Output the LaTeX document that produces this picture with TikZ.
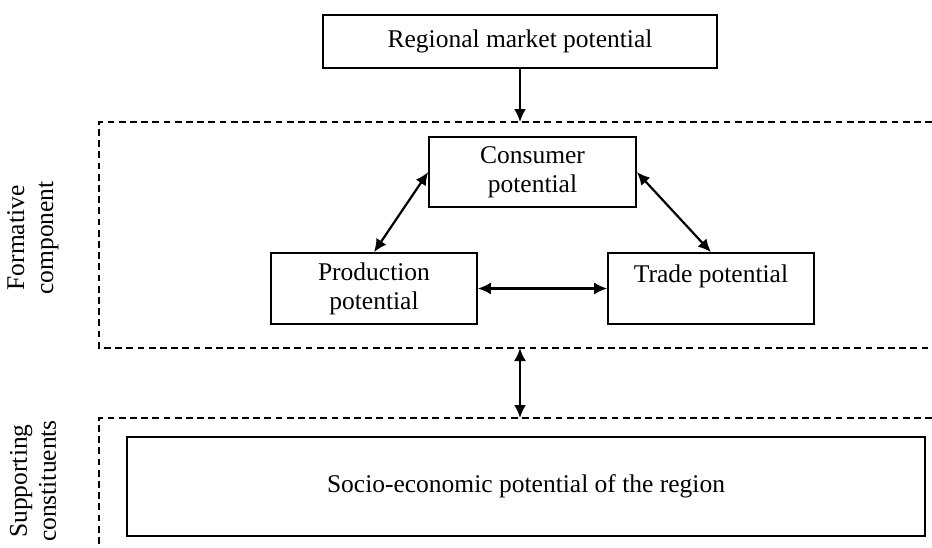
\documentclass[tikz,border=0pt]{standalone}
\usepackage{fontspec}
\setmainfont{Liberation Serif}
\usetikzlibrary{arrows.meta}
\tikzset{
  potbox/.style={draw,shape=rectangle,line width=0.8pt,inner sep=2pt,align=center,font=\fontsize{12.75}{14.5}\selectfont},
  zone/.style={dash pattern=on 3.4pt off 2.2pt,line width=0.6pt},
  sidelabel/.style={rotate=90,align=center,font=\fontsize{12.75}{14.5}\selectfont},
  link/.style={line width=1.1pt},
  >={Latex[length=6.5pt,width=6pt]}
}
\begin{document}
\begin{tikzpicture}[x=0.5pt,y=-0.5pt]
\useasboundingbox (0,0) rectangle (932,547);
% dashed zones
\draw[zone] (932,122)--(99,122)--(99,348)--(932,348);
\draw[zone] (932,418)--(99,418)--(99,547);
\node [sidelabel,name=formlbl] at (33,238){Formative\\component};
\node [sidelabel,name=supplbl] at (33,481){Supporting\\constituents};
% boxes
\node [potbox,name=market,minimum width=197pt,minimum height=26.5pt] at (520,41.5){Regional market potential};
\node [potbox,name=consumer,minimum width=103.5pt,minimum height=35pt] at (532.5,172){Consumer\\potential};
\node [potbox,name=production,minimum width=103pt,minimum height=35.5pt] at (374,288.5){Production\\potential};
\node [potbox,name=trade,minimum width=103pt,minimum height=35.5pt] at (711,288.5){Trade potential\\~};
\node [potbox,name=socio,minimum width=399pt,minimum height=49.5pt] at (526,486.5){Socio-economic potential of the region};
\coordinate (ztop) at (520,122);
\coordinate (zbot) at (520,348);
\coordinate (stop) at (520,418);
% connectors
\draw[->,link] (market)--(ztop);
\draw[<->,link] (consumer.west)--(production.north);
\draw[<->,link] (consumer.east)--(trade.north);
\draw[<->,link] (production)--(trade);
\draw[<->,link] (zbot)--(stop);
\end{tikzpicture}
\end{document}
